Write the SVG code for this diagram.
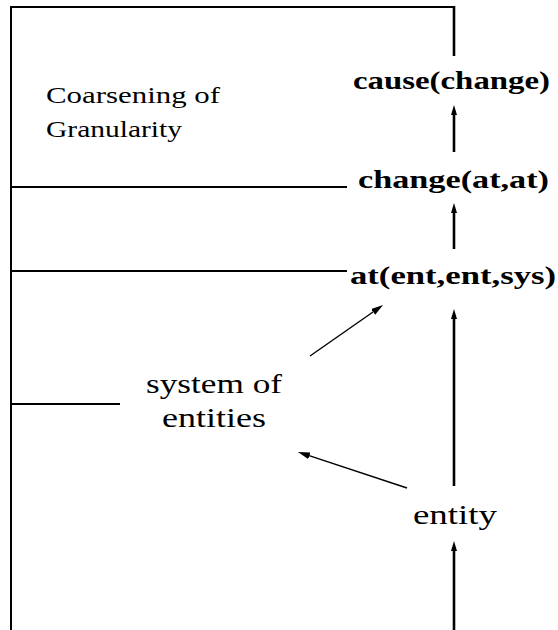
<svg xmlns="http://www.w3.org/2000/svg" width="558" height="630" viewBox="0 0 558 630">
<style>
.frame{fill:none;stroke:#000;stroke-width:2;stroke-linecap:square}
.vline{fill:none;stroke:#000;stroke-width:2.6}
.diag{fill:none;stroke:#000;stroke-width:1.4}
.bold{font-family:"Liberation Serif","Times New Roman",serif;font-weight:bold;font-size:26px;fill:#000}
.reg{font-family:"Liberation Serif","Times New Roman",serif;font-size:28px;fill:#000}
.lbl{font-family:"Liberation Serif","Times New Roman",serif;font-size:23px;fill:#000}
</style>
<defs>
<marker id="ah" viewBox="0 0 10 6" markerWidth="10" markerHeight="6" refX="4" refY="3" orient="auto" markerUnits="userSpaceOnUse">
<path d="M0,0 L10,3 L0,6 z" fill="#000"/>
</marker>
<marker id="ah2" viewBox="0 0 12 7" markerWidth="12" markerHeight="7" refX="5" refY="3.5" orient="auto" markerUnits="userSpaceOnUse">
<path d="M0,0 L12,3.5 L0,7 z" fill="#000"/>
</marker>
</defs>
<g id="frame">
<path class="frame" d="M11,630 L11,7 L454,7"/>
<line class="frame" x1="11" y1="187" x2="346" y2="187"/>
<line class="frame" x1="11" y1="271" x2="346" y2="271"/>
<line class="frame" x1="11" y1="404" x2="119" y2="404"/>
</g>
<g id="label-coarsening">
<text class="lbl" x="46" y="103" textLength="174" lengthAdjust="spacingAndGlyphs">Coarsening of</text>
<text class="lbl" x="46" y="137" textLength="136" lengthAdjust="spacingAndGlyphs">Granularity</text>
</g>
<g id="node-cause">
<text class="bold" x="353" y="89" textLength="197" lengthAdjust="spacingAndGlyphs">cause(change)</text>
</g>
<g id="node-change">
<text class="bold" x="358" y="188" textLength="191" lengthAdjust="spacingAndGlyphs">change(at,at)</text>
</g>
<g id="node-at">
<text class="bold" x="350" y="284" textLength="206" lengthAdjust="spacingAndGlyphs">at(ent,ent,sys)</text>
</g>
<g id="node-system">
<text class="reg" x="146" y="393" textLength="136" lengthAdjust="spacingAndGlyphs">system of</text>
<text class="reg" x="162" y="427" textLength="104" lengthAdjust="spacingAndGlyphs">entities</text>
</g>
<g id="node-entity">
<text class="reg" x="413" y="524" textLength="84" lengthAdjust="spacingAndGlyphs">entity</text>
</g>
<g id="connectors">
<line class="vline" x1="454" y1="6" x2="454" y2="56"/>
<line class="vline" x1="454" y1="152" x2="454" y2="111" marker-end="url(#ah)"/>
<line class="vline" x1="454" y1="249" x2="454" y2="209" marker-end="url(#ah)"/>
<line class="vline" x1="454" y1="486" x2="454" y2="315" marker-end="url(#ah)"/>
<line class="vline" x1="454" y1="630" x2="454" y2="547" marker-end="url(#ah)"/>
<line class="diag" x1="310" y1="356" x2="377.3" y2="309" marker-end="url(#ah2)"/>
<line class="diag" x1="407" y1="488" x2="304.6" y2="454.2" marker-end="url(#ah2)"/>
</g>
</svg>
